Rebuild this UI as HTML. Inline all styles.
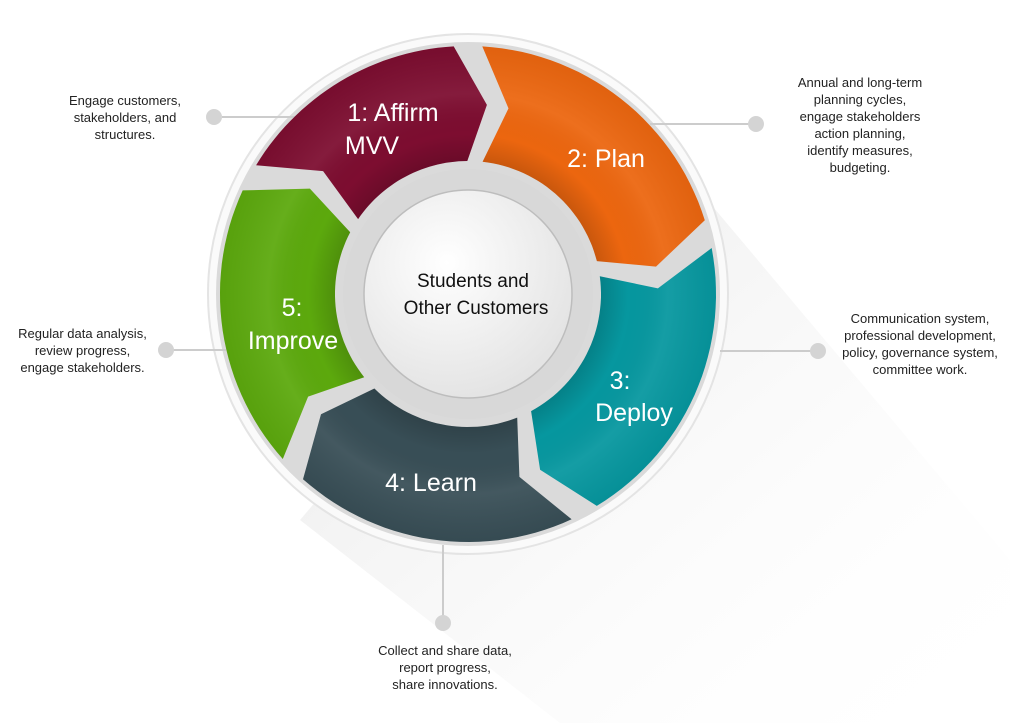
<!DOCTYPE html>
<html><head><meta charset="utf-8"><style>
html,body{margin:0;padding:0;background:#fff;}
body{width:1024px;height:723px;position:relative;overflow:hidden;font-family:"Liberation Sans",sans-serif;}
.t{position:absolute;font-size:13px;line-height:17px;color:#222;text-align:center;white-space:nowrap;}
</style></head><body>
<svg width="1024" height="723" style="position:absolute;left:0;top:0">
<defs>
<linearGradient id="sh" x1="0" y1="0" x2="1" y2="1">
<stop offset="0" stop-color="#dcdcdc" stop-opacity="0.8"/><stop offset="1" stop-color="#ffffff" stop-opacity="0"/></linearGradient>
<radialGradient id="cg" cx="0.4" cy="0.35" r="0.7"><stop offset="0" stop-color="#ffffff"/><stop offset="1" stop-color="#e2e2e2"/></radialGradient>
<radialGradient id="dk" cx="468" cy="294" r="250" gradientUnits="userSpaceOnUse">
<stop offset="0.53" stop-color="#000" stop-opacity="0.15"/><stop offset="0.64" stop-color="#000" stop-opacity="0"/><stop offset="0.8" stop-color="#fff" stop-opacity="0.06"/><stop offset="1" stop-color="#000" stop-opacity="0.05"/></radialGradient>
</defs>
<polygon points="640,120 1010,560 1010,723 560,723 300,520" fill="url(#sh)"/>
<circle cx="468" cy="294" r="260" fill="#fafafa" stroke="#e4e4e4" stroke-width="2"/>
<circle cx="468" cy="294" r="252" fill="#dadada"/>
<line x1="222" y1="117" x2="300" y2="117" stroke="#ccc" stroke-width="2"/>
<circle cx="214" cy="117" r="8" fill="#d4d4d4"/>
<line x1="650" y1="124" x2="756" y2="124" stroke="#ccc" stroke-width="2"/>
<circle cx="756" cy="124" r="8" fill="#d4d4d4"/>
<line x1="720" y1="351" x2="818" y2="351" stroke="#ccc" stroke-width="2"/>
<circle cx="818" cy="351" r="8" fill="#d4d4d4"/>
<line x1="166" y1="350" x2="226" y2="350" stroke="#ccc" stroke-width="2"/>
<circle cx="166" cy="350" r="8" fill="#d4d4d4"/>
<line x1="443" y1="545" x2="443" y2="623" stroke="#ccc" stroke-width="2"/>
<circle cx="443" cy="623" r="8" fill="#d4d4d4"/>
<path id="s1" fill="#7d0d30"/><path id="s2" fill="#ec660f"/><path id="s3" fill="#06979f"/><path id="s4" fill="#384e56"/><path id="s5" fill="#5ca90d"/>
<path id="s1b" fill="url(#dk)"/><path id="s2b" fill="url(#dk)"/><path id="s3b" fill="url(#dk)"/><path id="s4b" fill="url(#dk)"/><path id="s5b" fill="url(#dk)"/>
<circle cx="468" cy="294" r="125" fill="#d8d8d8"/>
<circle cx="468" cy="294" r="104" fill="url(#cg)" stroke="#bdbdbd" stroke-width="1.5"/>
<g fill="#fff" font-family="Liberation Sans, sans-serif" font-size="25" text-anchor="middle">
<text x="393" y="121">1: Affirm</text><text x="372" y="154" >MVV</text>
<text x="606" y="167">2: Plan</text>
<text x="620" y="389">3:</text><text x="634" y="421">Deploy</text>
<text x="431" y="491">4: Learn</text>
<text x="292" y="316">5:</text><text x="293" y="349">Improve</text>
</g>
<g fill="#111" font-family="Liberation Sans, sans-serif" font-size="19" text-anchor="middle">
<text x="473" y="287">Students and</text><text x="476" y="314">Other Customers</text>
</g>
</svg>
<div class="t" style="left:55px;top:92px;width:140px">Engage customers,<br>stakeholders, and<br>structures.</div>
<div class="t" style="left:780px;top:74px;width:160px">Annual and long-term<br>planning cycles,<br>engage stakeholders<br>action planning,<br>identify measures,<br>budgeting.</div>
<div class="t" style="left:830px;top:310px;width:180px">Communication system,<br>professional development,<br>policy, governance system,<br>committee work.</div>
<div class="t" style="left:5px;top:325px;width:155px">Regular data analysis,<br>review progress,<br>engage stakeholders.</div>
<div class="t" style="left:360px;top:642px;width:170px">Collect and share data,<br>report progress,<br>share innovations.</div>
<script>
(function(){
var cx=468,cy=294,Ro=248,Ri=133,Rm=190,g=3.3,dm=9,di=3;
function p(r,a){a=a*Math.PI/180;return (cx+r*Math.sin(a)).toFixed(1)+","+(cy-r*Math.cos(a)).toFixed(1);}
function seg(b0,b1){
 var pts=[],i,n=30,s=b0+g,e=b1-g;
 for(i=0;i<=n;i++)pts.push(p(Ro,s+(e-s)*i/n));
 pts.push(p(Rm,e+dm));
 var si=s+di,ei=e+di;
 for(i=n;i>=0;i--)pts.push(p(Ri,si+(ei-si)*i/n));
 pts.push(p(Rm,s+dm));
 return "M"+pts.join(" L")+"Z";}
var b=[-62,0,76,152,225,298];
for(var k=0;k<5;k++){var dd=seg(b[k],b[k+1]);
document.getElementById("s"+(k+1)).setAttribute("d",dd);
document.getElementById("s"+(k+1)+"b").setAttribute("d",dd);}
})();
</script>
</body></html>
